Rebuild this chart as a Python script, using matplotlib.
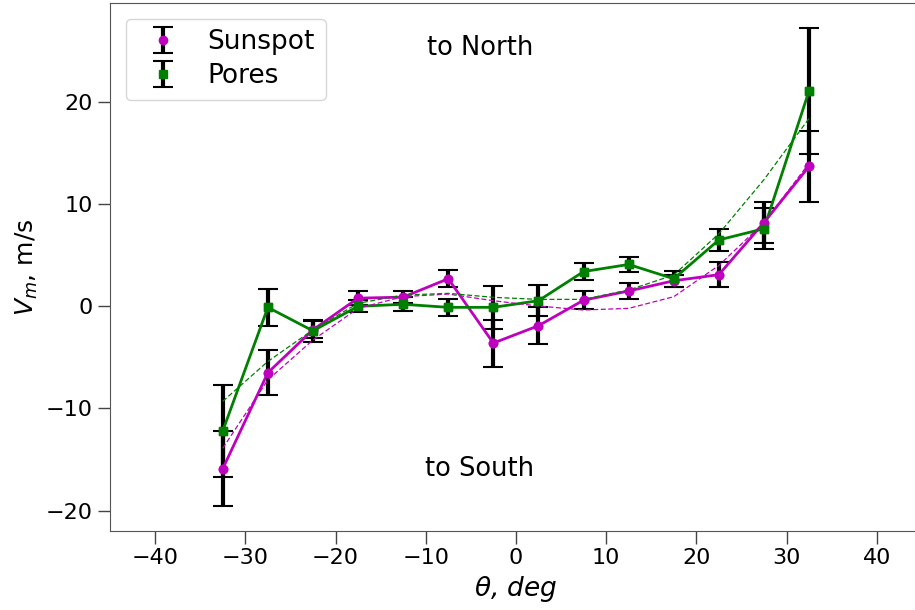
import numpy as np
import matplotlib
matplotlib.use('Agg')
import matplotlib.pyplot as plt

# 緯度帶中心
theta = [-32.5, -27.5, -22.5, -17.5, -12.5, -7.5, -2.5, 2.5, 7.5, 12.5, 17.5, 22.5, 27.5, 32.5]

# 黑子
v_spot = [-15.9, -6.5, -2.3, 0.8, 0.9, 2.7, -3.6, -1.9, 0.6, 1.5, 2.5, 3.1, 8.2, 13.7]
e_spot = [3.65, 2.2, 0.85, 0.7, 0.6, 0.85, 2.3, 1.8, 0.9, 0.75, 0.6, 1.2, 2.0, 3.5]
fit_spot = [-13.9, -7.2, -3.3, -0.2, 0.95, 1.2, 0.55, 0.03, -0.36, -0.2, 0.94, 4.0, 8.2, 14.0]

# 氣孔
v_pore = [-12.2, -0.1, -2.4, 0.0, 0.2, -0.1, -0.1, 0.55, 3.4, 4.1, 2.7, 6.5, 7.6, 21.1]
e_pore = [4.5, 1.8, 1.06, 0.6, 0.7, 0.8, 2.1, 1.5, 0.85, 0.7, 0.8, 1.1, 2.0, 6.2]
fit_pore = [-9.3, -5.4, -2.3, 0.3, 1.1, 1.27, 0.88, 0.68, 0.68, 1.6, 3.06, 7.1, 12.4, 18.4]

fig = plt.figure(figsize=(9.15, 6.10), dpi=100)
ax = fig.add_axes([110/915, 79/610, 811.8/915, 528/610])

err_kw = dict(ecolor='k', elinewidth=3, capsize=7, capthick=1.5, markersize=6)
ax.errorbar(theta, v_spot, yerr=e_spot, fmt='o', color='m', label='Sunspot', zorder=2, **err_kw)
ax.errorbar(theta, v_pore, yerr=e_pore, fmt='s', color='g', label='Pores', zorder=2, **err_kw)

ax.plot(theta, v_spot, '-', color='m', lw=2, zorder=3)
ax.plot(theta, v_pore, '-', color='g', lw=2, zorder=3)
ax.plot(theta, v_spot, 'o', color='m', ms=6, zorder=4)
ax.plot(theta, v_pore, 's', color='g', ms=6, zorder=4)
ax.plot(theta, fit_spot, '--', color='m', lw=0.9, dashes=(4, 2), zorder=3)
ax.plot(theta, fit_pore, '--', color='g', lw=0.9, dashes=(4, 2), zorder=3)

ax.text(-4, 25.3, 'to North', fontsize=18.5, ha='center', va='center')
ax.text(-4, -15.9, 'to South', fontsize=18.5, ha='center', va='center')

ax.set_xlim(-45, 45)
ax.set_ylim(-22, 29.7)
ax.set_xticks([-40, -30, -20, -10, 0, 10, 20, 30, 40])
ax.set_yticks([-20, -10, 0, 10, 20])
ax.tick_params(direction='out', length=9, width=1, labelsize=16, color='#444444')
for s in ax.spines.values():
    s.set_color('#555555')
ax.spines['right'].set_visible(False)

ax.set_xlabel(r'$\theta$, deg', fontsize=19, fontstyle='italic')
ax.set_ylabel(r'$V_m$, m/s', fontsize=18)

ax.legend(loc='upper left', fontsize=19, borderaxespad=0.6, labelspacing=0.3, handletextpad=0.7)

fig.savefig('out.png', dpi=100)
